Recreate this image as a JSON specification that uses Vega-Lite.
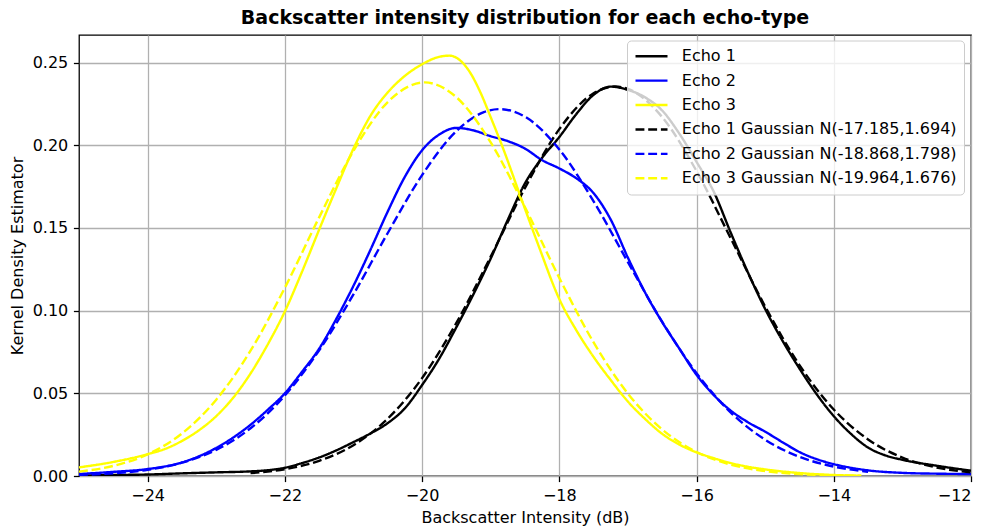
{
  "$schema": "https://vega.github.io/schema/vega-lite/v6.json",
  "width": 892,
  "height": 441,
  "autosize": {"type": "none"},
  "padding": {"left": 79, "top": 35, "right": 16, "bottom": 55},
  "background": "white",
  "title": {"text": "Backscatter intensity distribution for each echo-type", "font": "DejaVu Sans", "fontSize": 19, "fontWeight": "bold", "color": "black", "anchor": "middle", "offset": 7},
  "config": {
    "view": {"stroke": "black", "strokeWidth": 1.28},
    "axis": {"labelFont": "DejaVu Sans", "labelFontSize": 16, "titleFont": "DejaVu Sans", "titleFontSize": 16, "titleFontWeight": "normal", "labelColor": "black", "titleColor": "black", "tickColor": "black", "tickSize": 5.6, "tickWidth": 1.28, "labelPadding": 5.6, "gridColor": "#b0b0b0", "gridWidth": 1.28, "gridOpacity": 1, "domain": false},
    "legend": {"orient": "none", "legendX": 548, "legendY": 5.5, "symbolType": "stroke", "symbolSize": 1024, "symbolStrokeWidth": 2.4, "labelFont": "DejaVu Sans", "labelFontSize": 16, "labelColor": "black", "labelOffset": 12.8, "fillColor": "rgba(255,255,255,0.8)", "strokeColor": "#cccccc", "cornerRadius": 4, "padding": 7, "rowPadding": 6.4, "clipHeight": 17.5, "labelLimit": 400}
  },
  "data": {"values": [
    {"series":"Echo 1","x":-25,"y":0.0003},{"series":"Echo 1","x":-24.5,"y":0.0006},{"series":"Echo 1","x":-24,"y":0.0009},{"series":"Echo 1","x":-23.5,"y":0.0016},{"series":"Echo 1","x":-23,"y":0.0022},{"series":"Echo 1","x":-22.5,"y":0.0028},{"series":"Echo 1","x":-22.25,"y":0.0035},{"series":"Echo 1","x":-22,"y":0.005},{"series":"Echo 1","x":-21.75,"y":0.0078},{"series":"Echo 1","x":-21.5,"y":0.0112},{"series":"Echo 1","x":-21.25,"y":0.0155},{"series":"Echo 1","x":-21,"y":0.0205},{"series":"Echo 1","x":-20.75,"y":0.0258},{"series":"Echo 1","x":-20.5,"y":0.032},{"series":"Echo 1","x":-20.25,"y":0.041},{"series":"Echo 1","x":-20,"y":0.055},{"series":"Echo 1","x":-19.75,"y":0.071},{"series":"Echo 1","x":-19.5,"y":0.09},{"series":"Echo 1","x":-19.25,"y":0.11},{"series":"Echo 1","x":-19,"y":0.1315},{"series":"Echo 1","x":-18.75,"y":0.155},{"series":"Echo 1","x":-18.5,"y":0.177},{"series":"Echo 1","x":-18.25,"y":0.1925},{"series":"Echo 1","x":-18,"y":0.205},{"series":"Echo 1","x":-17.75,"y":0.219},{"series":"Echo 1","x":-17.5,"y":0.2305},{"series":"Echo 1","x":-17.25,"y":0.2355},{"series":"Echo 1","x":-17,"y":0.2335},{"series":"Echo 1","x":-16.75,"y":0.229},{"series":"Echo 1","x":-16.5,"y":0.221},{"series":"Echo 1","x":-16.25,"y":0.207},{"series":"Echo 1","x":-16,"y":0.19},{"series":"Echo 1","x":-15.75,"y":0.172},{"series":"Echo 1","x":-15.5,"y":0.147},{"series":"Echo 1","x":-15.25,"y":0.123},{"series":"Echo 1","x":-15,"y":0.101},{"series":"Echo 1","x":-14.75,"y":0.082},{"series":"Echo 1","x":-14.5,"y":0.065},{"series":"Echo 1","x":-14.25,"y":0.0495},{"series":"Echo 1","x":-14,"y":0.0362},{"series":"Echo 1","x":-13.75,"y":0.0255},{"series":"Echo 1","x":-13.5,"y":0.0172},{"series":"Echo 1","x":-13.25,"y":0.0125},{"series":"Echo 1","x":-13,"y":0.0098},{"series":"Echo 1","x":-12.5,"y":0.0062},{"series":"Echo 1","x":-12,"y":0.0032},
    {"series":"Echo 2","x":-25,"y":0.0012},{"series":"Echo 2","x":-24.5,"y":0.0025},{"series":"Echo 2","x":-24,"y":0.0042},{"series":"Echo 2","x":-23.5,"y":0.0082},{"series":"Echo 2","x":-23,"y":0.017},{"series":"Echo 2","x":-22.5,"y":0.031},{"series":"Echo 2","x":-22.25,"y":0.04},{"series":"Echo 2","x":-22,"y":0.05},{"series":"Echo 2","x":-21.75,"y":0.063},{"series":"Echo 2","x":-21.5,"y":0.077},{"series":"Echo 2","x":-21.25,"y":0.095},{"series":"Echo 2","x":-21,"y":0.115},{"series":"Echo 2","x":-20.75,"y":0.137},{"series":"Echo 2","x":-20.5,"y":0.16},{"series":"Echo 2","x":-20.25,"y":0.181},{"series":"Echo 2","x":-20,"y":0.197},{"series":"Echo 2","x":-19.75,"y":0.2065},{"series":"Echo 2","x":-19.5,"y":0.2105},{"series":"Echo 2","x":-19.25,"y":0.209},{"series":"Echo 2","x":-19,"y":0.2055},{"series":"Echo 2","x":-18.75,"y":0.2025},{"series":"Echo 2","x":-18.5,"y":0.198},{"series":"Echo 2","x":-18.25,"y":0.191},{"series":"Echo 2","x":-18,"y":0.186},{"series":"Echo 2","x":-17.75,"y":0.18},{"series":"Echo 2","x":-17.5,"y":0.171},{"series":"Echo 2","x":-17.25,"y":0.155},{"series":"Echo 2","x":-17,"y":0.132},{"series":"Echo 2","x":-16.75,"y":0.111},{"series":"Echo 2","x":-16.5,"y":0.093},{"series":"Echo 2","x":-16.25,"y":0.077},{"series":"Echo 2","x":-16,"y":0.0612},{"series":"Echo 2","x":-15.75,"y":0.049},{"series":"Echo 2","x":-15.5,"y":0.0395},{"series":"Echo 2","x":-15.25,"y":0.0325},{"series":"Echo 2","x":-15,"y":0.0268},{"series":"Echo 2","x":-14.75,"y":0.0205},{"series":"Echo 2","x":-14.5,"y":0.0145},{"series":"Echo 2","x":-14.25,"y":0.0102},{"series":"Echo 2","x":-14,"y":0.0072},{"series":"Echo 2","x":-13.5,"y":0.0034},{"series":"Echo 2","x":-13,"y":0.0019},{"series":"Echo 2","x":-12.5,"y":0.0014},{"series":"Echo 2","x":-12,"y":0.0012},
    {"series":"Echo 3","x":-25,"y":0.0052},{"series":"Echo 3","x":-24.5,"y":0.0085},{"series":"Echo 3","x":-24,"y":0.0132},{"series":"Echo 3","x":-23.75,"y":0.0163},{"series":"Echo 3","x":-23.5,"y":0.0212},{"series":"Echo 3","x":-23.25,"y":0.0277},{"series":"Echo 3","x":-23,"y":0.0362},{"series":"Echo 3","x":-22.75,"y":0.0475},{"series":"Echo 3","x":-22.5,"y":0.062},{"series":"Echo 3","x":-22.25,"y":0.0795},{"series":"Echo 3","x":-22,"y":0.0995},{"series":"Echo 3","x":-21.75,"y":0.1235},{"series":"Echo 3","x":-21.5,"y":0.149},{"series":"Echo 3","x":-21.25,"y":0.174},{"series":"Echo 3","x":-21,"y":0.198},{"series":"Echo 3","x":-20.75,"y":0.218},{"series":"Echo 3","x":-20.5,"y":0.232},{"series":"Echo 3","x":-20.25,"y":0.242},{"series":"Echo 3","x":-20,"y":0.249},{"series":"Echo 3","x":-19.75,"y":0.2535},{"series":"Echo 3","x":-19.6,"y":0.2542},{"series":"Echo 3","x":-19.45,"y":0.2515},{"series":"Echo 3","x":-19.3,"y":0.244},{"series":"Echo 3","x":-19.15,"y":0.232},{"series":"Echo 3","x":-19,"y":0.217},{"series":"Echo 3","x":-18.8,"y":0.196},{"series":"Echo 3","x":-18.6,"y":0.173},{"series":"Echo 3","x":-18.3,"y":0.139},{"series":"Echo 3","x":-18,"y":0.107},{"series":"Echo 3","x":-17.75,"y":0.088},{"series":"Echo 3","x":-17.5,"y":0.072},{"series":"Echo 3","x":-17.25,"y":0.058},{"series":"Echo 3","x":-17,"y":0.045},{"series":"Echo 3","x":-16.75,"y":0.0345},{"series":"Echo 3","x":-16.5,"y":0.0255},{"series":"Echo 3","x":-16.25,"y":0.019},{"series":"Echo 3","x":-16,"y":0.0143},{"series":"Echo 3","x":-15.75,"y":0.0108},{"series":"Echo 3","x":-15.5,"y":0.0078},{"series":"Echo 3","x":-15.25,"y":0.0056},{"series":"Echo 3","x":-15,"y":0.004},{"series":"Echo 3","x":-14.5,"y":0.0018},{"series":"Echo 3","x":-14,"y":0.0006},{"series":"Echo 3","x":-13.6,"y":0.0002},
    {"series":"Echo 1 Gaussian N(-17.185,1.694)","x":-22.5,"y":0.00172},{"series":"Echo 1 Gaussian N(-17.185,1.694)","x":-22,"y":0.00414},{"series":"Echo 1 Gaussian N(-17.185,1.694)","x":-21.5,"y":0.00919},{"series":"Echo 1 Gaussian N(-17.185,1.694)","x":-21,"y":0.01865},{"series":"Echo 1 Gaussian N(-17.185,1.694)","x":-20.5,"y":0.03471},{"series":"Echo 1 Gaussian N(-17.185,1.694)","x":-20,"y":0.05921},{"series":"Echo 1 Gaussian N(-17.185,1.694)","x":-19.5,"y":0.09257},{"series":"Echo 1 Gaussian N(-17.185,1.694)","x":-19,"y":0.13265},{"series":"Echo 1 Gaussian N(-17.185,1.694)","x":-18.5,"y":0.17425},{"series":"Echo 1 Gaussian N(-17.185,1.694)","x":-18,"y":0.20977},{"series":"Echo 1 Gaussian N(-17.185,1.694)","x":-17.5,"y":0.23147},{"series":"Echo 1 Gaussian N(-17.185,1.694)","x":-17.185,"y":0.23551},{"series":"Echo 1 Gaussian N(-17.185,1.694)","x":-17,"y":0.23411},{"series":"Echo 1 Gaussian N(-17.185,1.694)","x":-16.5,"y":0.21702},{"series":"Echo 1 Gaussian N(-17.185,1.694)","x":-16,"y":0.1844},{"series":"Echo 1 Gaussian N(-17.185,1.694)","x":-15.5,"y":0.1436},{"series":"Echo 1 Gaussian N(-17.185,1.694)","x":-15,"y":0.10251},{"series":"Echo 1 Gaussian N(-17.185,1.694)","x":-14.5,"y":0.06707},{"series":"Echo 1 Gaussian N(-17.185,1.694)","x":-14,"y":0.04022},{"series":"Echo 1 Gaussian N(-17.185,1.694)","x":-13.5,"y":0.02211},{"series":"Echo 1 Gaussian N(-17.185,1.694)","x":-13,"y":0.01114},{"series":"Echo 1 Gaussian N(-17.185,1.694)","x":-12.5,"y":0.00514},{"series":"Echo 1 Gaussian N(-17.185,1.694)","x":-12,"y":0.00218},
    {"series":"Echo 2 Gaussian N(-18.868,1.798)","x":-25,"y":0.00066},{"series":"Echo 2 Gaussian N(-18.868,1.798)","x":-24.5,"y":0.00164},{"series":"Echo 2 Gaussian N(-18.868,1.798)","x":-24,"y":0.00378},{"series":"Echo 2 Gaussian N(-18.868,1.798)","x":-23.5,"y":0.00804},{"series":"Echo 2 Gaussian N(-18.868,1.798)","x":-23,"y":0.01582},{"series":"Echo 2 Gaussian N(-18.868,1.798)","x":-22.5,"y":0.02885},{"series":"Echo 2 Gaussian N(-18.868,1.798)","x":-22,"y":0.04867},{"series":"Echo 2 Gaussian N(-18.868,1.798)","x":-21.5,"y":0.076},{"series":"Echo 2 Gaussian N(-18.868,1.798)","x":-21,"y":0.10985},{"series":"Echo 2 Gaussian N(-18.868,1.798)","x":-20.5,"y":0.14697},{"series":"Echo 2 Gaussian N(-18.868,1.798)","x":-20,"y":0.18199},{"series":"Echo 2 Gaussian N(-18.868,1.798)","x":-19.5,"y":0.20859},{"series":"Echo 2 Gaussian N(-18.868,1.798)","x":-19.1,"y":0.22},{"series":"Echo 2 Gaussian N(-18.868,1.798)","x":-18.868,"y":0.22188},{"series":"Echo 2 Gaussian N(-18.868,1.798)","x":-18.5,"y":0.21728},{"series":"Echo 2 Gaussian N(-18.868,1.798)","x":-18,"y":0.19747},{"series":"Echo 2 Gaussian N(-18.868,1.798)","x":-17.5,"y":0.16611},{"series":"Echo 2 Gaussian N(-18.868,1.798)","x":-17,"y":0.12934},{"series":"Echo 2 Gaussian N(-18.868,1.798)","x":-16.5,"y":0.09322},{"series":"Echo 2 Gaussian N(-18.868,1.798)","x":-16,"y":0.06218},{"series":"Echo 2 Gaussian N(-18.868,1.798)","x":-15.5,"y":0.03839},{"series":"Echo 2 Gaussian N(-18.868,1.798)","x":-15,"y":0.02194},{"series":"Echo 2 Gaussian N(-18.868,1.798)","x":-14.5,"y":0.0116},{"series":"Echo 2 Gaussian N(-18.868,1.798)","x":-14,"y":0.00568},{"series":"Echo 2 Gaussian N(-18.868,1.798)","x":-13.5,"y":0.00257},
    {"series":"Echo 3 Gaussian N(-19.964,1.676)","x":-25,"y":0.00261},{"series":"Echo 3 Gaussian N(-19.964,1.676)","x":-24.5,"y":0.00611},{"series":"Echo 3 Gaussian N(-19.964,1.676)","x":-24,"y":0.01311},{"series":"Echo 3 Gaussian N(-19.964,1.676)","x":-23.5,"y":0.0257},{"series":"Echo 3 Gaussian N(-19.964,1.676)","x":-23,"y":0.04614},{"series":"Echo 3 Gaussian N(-19.964,1.676)","x":-22.5,"y":0.07576},{"series":"Echo 3 Gaussian N(-19.964,1.676)","x":-22,"y":0.11381},{"series":"Echo 3 Gaussian N(-19.964,1.676)","x":-21.5,"y":0.1564},{"series":"Echo 3 Gaussian N(-19.964,1.676)","x":-21,"y":0.19664},{"series":"Echo 3 Gaussian N(-19.964,1.676)","x":-20.5,"y":0.22616},{"series":"Echo 3 Gaussian N(-19.964,1.676)","x":-19.964,"y":0.23803},{"series":"Echo 3 Gaussian N(-19.964,1.676)","x":-19.5,"y":0.22908},{"series":"Echo 3 Gaussian N(-19.964,1.676)","x":-19,"y":0.20174},{"series":"Echo 3 Gaussian N(-19.964,1.676)","x":-18.5,"y":0.16253},{"series":"Echo 3 Gaussian N(-19.964,1.676)","x":-18,"y":0.1198},{"series":"Echo 3 Gaussian N(-19.964,1.676)","x":-17.5,"y":0.08078},{"series":"Echo 3 Gaussian N(-19.964,1.676)","x":-17,"y":0.04982},{"series":"Echo 3 Gaussian N(-19.964,1.676)","x":-16.5,"y":0.02812},{"series":"Echo 3 Gaussian N(-19.964,1.676)","x":-16,"y":0.01452},{"series":"Echo 3 Gaussian N(-19.964,1.676)","x":-15.5,"y":0.00686},{"series":"Echo 3 Gaussian N(-19.964,1.676)","x":-15,"y":0.00297},{"series":"Echo 3 Gaussian N(-19.964,1.676)","x":-14.5,"y":0.00117},{"series":"Echo 3 Gaussian N(-19.964,1.676)","x":-14,"y":0.00042},{"series":"Echo 3 Gaussian N(-19.964,1.676)","x":-13.6,"y":0.00018}
  ]},
  "mark": {"type": "line", "strokeWidth": 2.4, "interpolate": "monotone", "clip": true},
  "encoding": {
    "x": {"field": "x", "type": "quantitative", "scale": {"domain": [-25, -12], "nice": false, "zero": false}, "axis": {"values": [-24, -22, -20, -18, -16, -14, -12], "format": "d", "title": "Backscatter Intensity (dB)", "titlePadding": 6, "grid": true}},
    "y": {"field": "y", "type": "quantitative", "scale": {"domain": [0, 0.2667], "nice": false}, "axis": {"values": [0, 0.05, 0.1, 0.15, 0.2, 0.25], "format": ".2f", "title": "Kernel Density Estimator", "titlePadding": 7, "grid": true}},
    "color": {"field": "series", "type": "nominal", "title": null, "scale": {"domain": ["Echo 1", "Echo 2", "Echo 3", "Echo 1 Gaussian N(-17.185,1.694)", "Echo 2 Gaussian N(-18.868,1.798)", "Echo 3 Gaussian N(-19.964,1.676)"], "range": ["#000000", "#0000ff", "#ffff00", "#000000", "#0000ff", "#ffff00"]}},
    "strokeDash": {"field": "series", "type": "nominal", "title": null, "scale": {"domain": ["Echo 1", "Echo 2", "Echo 3", "Echo 1 Gaussian N(-17.185,1.694)", "Echo 2 Gaussian N(-18.868,1.798)", "Echo 3 Gaussian N(-19.964,1.676)"], "range": [[1, 0], [1, 0], [1, 0], [8.9, 3.8], [8.9, 3.8], [8.9, 3.8]]}},
    "order": {"value": 0}
  }
}
